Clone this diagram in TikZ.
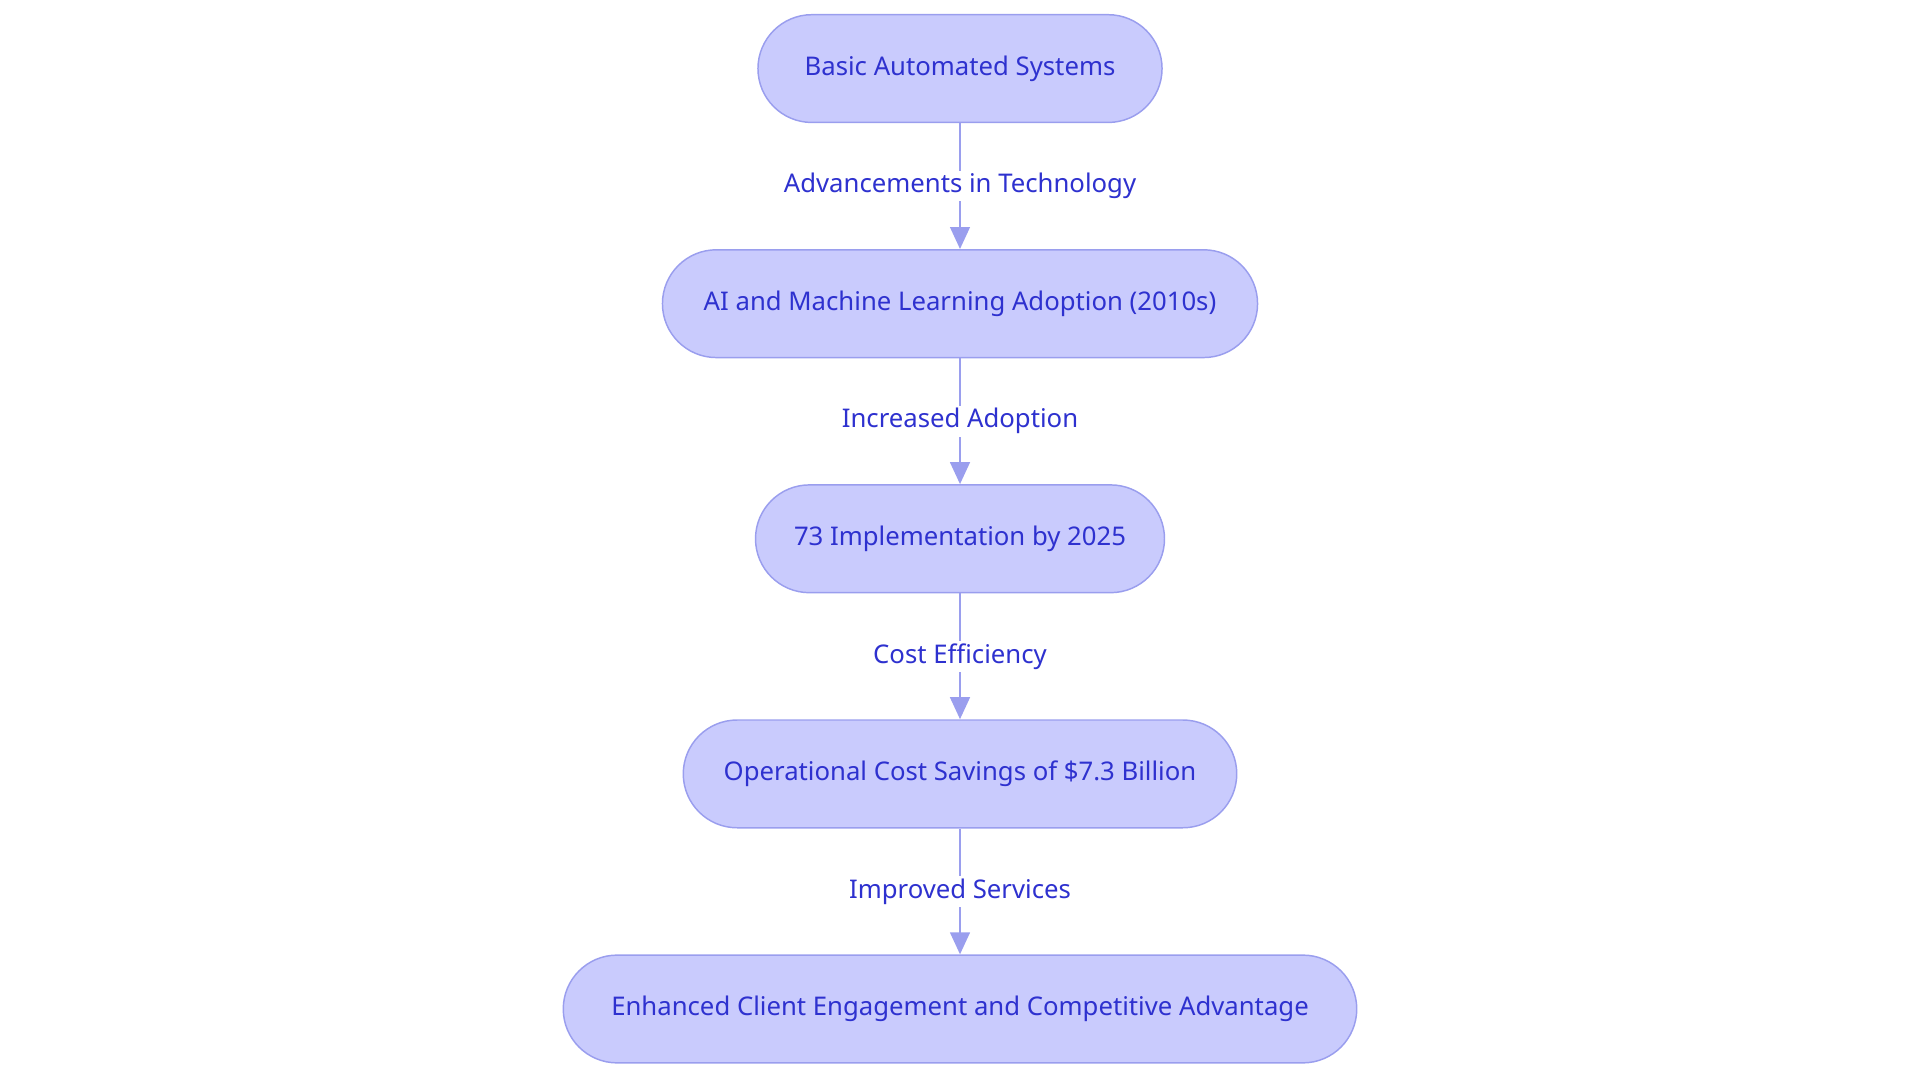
\documentclass[tikz,border=0pt]{standalone}
\usepackage{fontspec}
\setmainfont{Noto Sans}
\usetikzlibrary{arrows.meta}
\definecolor{nfill}{HTML}{C9CBFD}
\definecolor{nline}{HTML}{9A9EEE}
\definecolor{ntext}{HTML}{2E31CF}
\tikzset{
 box/.style={draw=nline,fill=nfill,rounded corners=22pt,minimum height=44pt,text=ntext,font=\fontsize{10.5}{12}\selectfont,line width=0.6pt},
 conn/.style={draw=nline,line width=1.1pt,-{Triangle[length=9pt,width=8pt]}},
 lbl/.style={fill=white,text=ntext,font=\fontsize{10.5}{12}\selectfont,inner sep=1pt}
}
\begin{document}
\begin{tikzpicture}[x=0.5pt,y=-0.5pt]
\useasboundingbox (0,0) rectangle (1568,884);
\node[box,minimum width=165pt] (a) at (784,56) {Basic Automated Systems};
\node[box,minimum width=243pt] (b) at (784,248) {AI and Machine Learning Adoption (2010s)};
\node[box,minimum width=167pt] (c) at (784,440) {73 Implementation by 2025};
\node[box,minimum width=226pt] (d) at (784,632) {Operational Cost Savings of \$7.3 Billion};
\node[box,minimum width=324pt] (e) at (784,824) {Enhanced Client Engagement and Competitive Advantage};
\draw[conn] (a) -- node[lbl]{Advancements in Technology} (b);
\draw[conn] (b) -- node[lbl]{Increased Adoption} (c);
\draw[conn] (c) -- node[lbl]{Cost Efficiency} (d);
\draw[conn] (d) -- node[lbl]{Improved Services} (e);
\end{tikzpicture}
\end{document}
